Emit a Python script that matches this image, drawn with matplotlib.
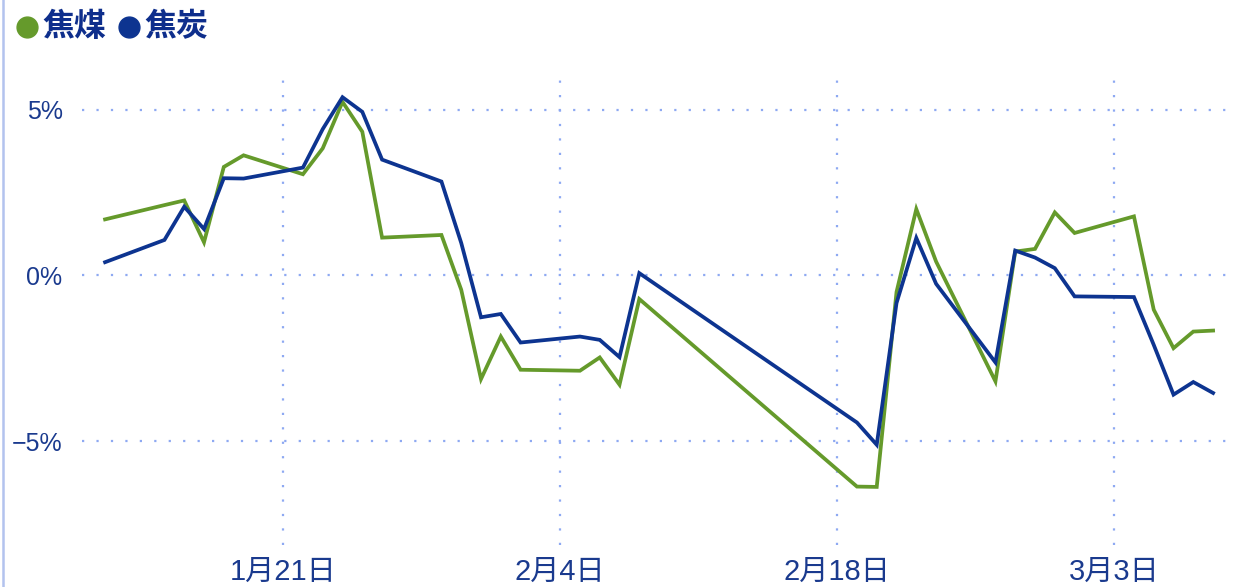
import pandas as pd
import matplotlib.pyplot as plt
from matplotlib.lines import Line2D

GREEN = '#659a2b'
BLUE = '#0d3490'
TEXT = '#1a3a8e'
GRID = '#8ea9f2'

dates = ['2024-01-12', '2024-01-15', '2024-01-16', '2024-01-17', '2024-01-18',
         '2024-01-19', '2024-01-22', '2024-01-23', '2024-01-24', '2024-01-25',
         '2024-01-26', '2024-01-29', '2024-01-30', '2024-01-31', '2024-02-01',
         '2024-02-02', '2024-02-05', '2024-02-06', '2024-02-07', '2024-02-08',
         '2024-02-19', '2024-02-20', '2024-02-21', '2024-02-22', '2024-02-23',
         '2024-02-26', '2024-02-27', '2024-02-28', '2024-02-29', '2024-03-01',
         '2024-03-04', '2024-03-05', '2024-03-06', '2024-03-07', '2024-03-08']

# 焦煤
coking_coal = [1.69, 2.12, 2.26, 1.00, 3.27, 3.62, 3.05, 3.83, 5.23, 4.33,
               1.14, 1.22, -0.43, -3.12, -1.84, -2.84, -2.87, -2.47, -3.29, -0.71,
               -6.36, -6.37, -0.50, 2.00, 0.42, -3.19, 0.72, 0.80, 1.90, 1.28,
               1.78, -1.03, -2.19, -1.69, -1.66]
# 焦炭
coke = [0.40, 1.07, 2.07, 1.40, 2.93, 2.92, 3.25, 4.41, 5.37, 4.93,
        3.49, 2.83, 0.98, -1.26, -1.16, -2.02, -1.84, -1.94, -2.46, 0.07,
        -4.43, -5.10, -0.83, 1.13, -0.25, -2.62, 0.75, 0.54, 0.22, -0.63,
        -0.65, -2.09, -3.59, -3.21, -3.54]

tick_dates = ['2024-01-21', '2024-02-04', '2024-02-18', '2024-03-03']
tick_labels = ['1月21日', '2月4日', '2月18日', '3月3日']
y_ticks = [-5, 0, 5]
y_labels = ['\u22125%', '0%', '5%']
legend_names = ['焦煤', '焦炭']

plt.rcParams['font.family'] = ['Liberation Sans', 'Noto Sans CJK SC', 'DejaVu Sans']

x = pd.to_datetime(dates)

fig = plt.figure(figsize=(12.37, 5.87), dpi=100)
ax = fig.add_axes([82 / 1237, 1 - 545 / 587, 1 - 82 / 1237, (545 - 72) / 587])

ax.plot(x, coking_coal, color=GREEN, lw=2.7, solid_joinstyle='miter')
ax.plot(x, coke, color=BLUE, lw=2.7, solid_joinstyle='miter')

ax.set_xlim(pd.Timestamp('2024-01-10 20:00'), pd.Timestamp('2024-03-09 05:00'))
ax.set_ylim(-8.12, 6.13)

ax.set_xticks(pd.to_datetime(tick_dates))
ax.set_xticklabels(tick_labels, fontsize=21)
ax.set_yticks(y_ticks)
ax.set_yticklabels(y_labels, fontsize=18)
ax.tick_params(axis='both', length=0, labelcolor=TEXT)
ax.tick_params(axis='x', pad=9)
ax.tick_params(axis='y', pad=14)

ax.grid(True, color=GRID, lw=1.6, linestyle=(0, (1, 5.5)))
ax.set_axisbelow(True)
for s in ax.spines.values():
    s.set_visible(False)

# left border line
fig.add_artist(Line2D([3.5 / 1237, 3.5 / 1237], [0, 1], transform=fig.transFigure,
                      color='#b3c3ee', lw=1.8))

# legend
for cx, name, col in [(27, legend_names[0], GREEN), (129, legend_names[1], BLUE)]:
    fig.add_artist(Line2D([cx / 1237], [1 - 27 / 587], transform=fig.transFigure,
                          marker='o', ms=15, color=col, lw=0))
    fig.text((cx + 15) / 1237, 1 - 27 / 587, name, color='#0e2e8c', fontsize=23,
             fontweight='bold', va='center', ha='left',
             family=['Noto Sans CJK SC', 'DejaVu Sans'])

fig.savefig('out.png', dpi=100)
